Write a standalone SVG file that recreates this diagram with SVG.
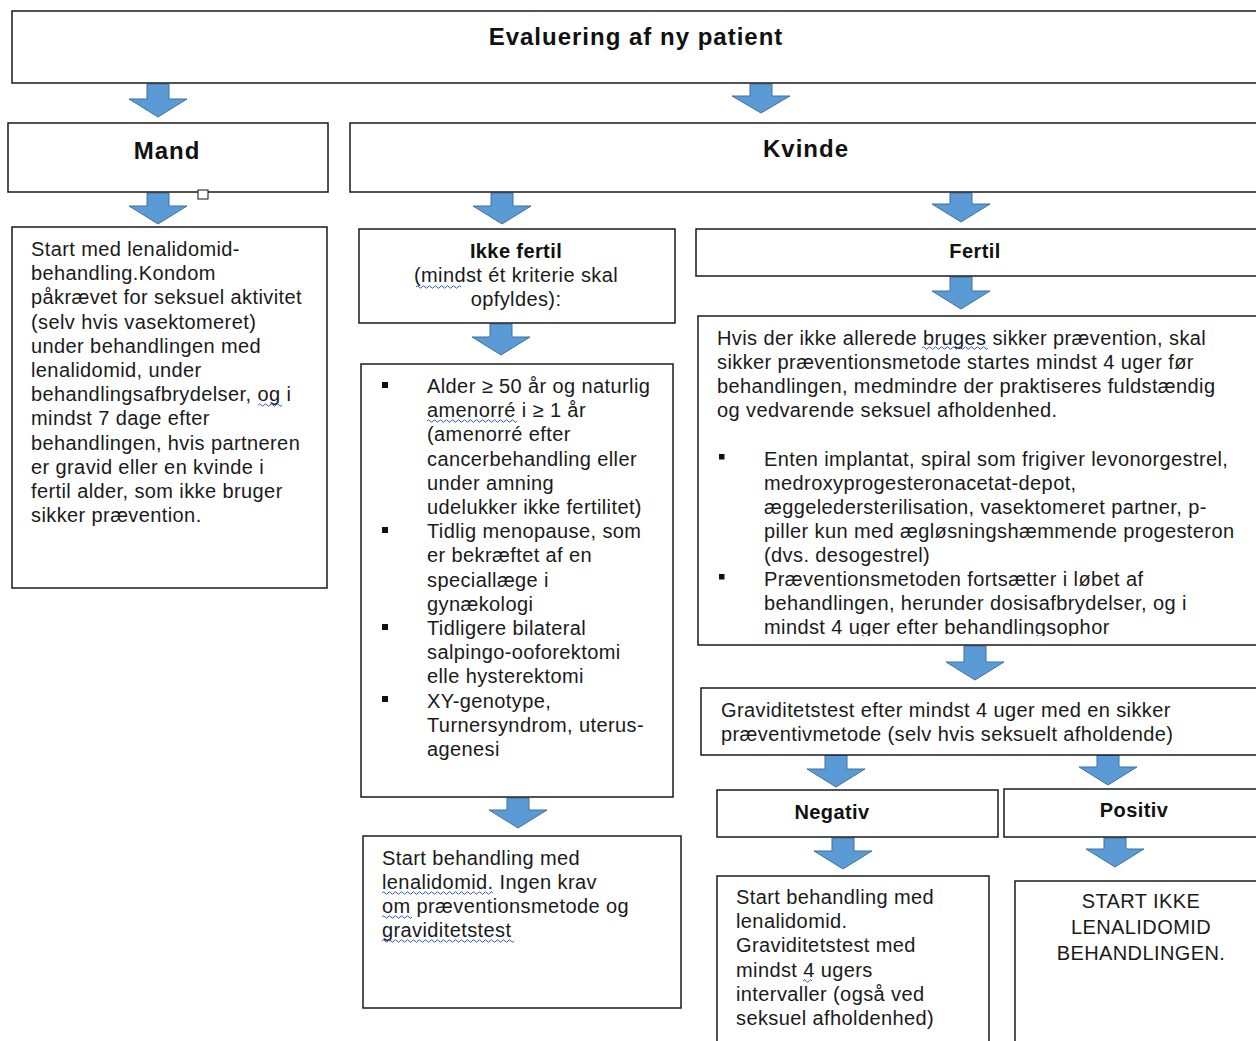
<svg xmlns="http://www.w3.org/2000/svg" width="1256" height="1041" viewBox="0 0 1256 1041">
<defs>
<style>
.box{fill:#fff;stroke:#1a1a1a;stroke-width:1.5}
.arr{fill:#5b9bd5;stroke:#41719c;stroke-width:1}
.t{font-family:"Liberation Sans",Arial,sans-serif;font-size:20px;letter-spacing:0.4px;fill:#1a1a1a}
.h{font-family:"Liberation Sans",Arial,sans-serif;font-size:24px;font-weight:bold;letter-spacing:1px;fill:#111;text-anchor:middle}
.hb{font-family:"Liberation Sans",Arial,sans-serif;font-size:20px;font-weight:bold;letter-spacing:0.4px;fill:#111;text-anchor:middle}
.c{text-anchor:middle}
.bul{fill:#111}
.wv{fill:none;stroke:#3355dd;stroke-width:1}
</style>
<clipPath id="clipFertil"><rect x="698" y="316" width="600" height="320"/></clipPath>
</defs>

<g id="connectors">
<path class="arr" d="M147,84 H169 V99 H187 L158,117 L129,99 H147 Z"/>
<path class="arr" d="M750,84 H772 V96 H790 L761,113 L732,96 H750 Z"/>
<path class="arr" d="M147,193 H169 V206 H187 L158,224 L129,206 H147 Z"/>
<path class="arr" d="M491,193 H513 V206 H531 L502,224 L473,206 H491 Z"/>
<path class="arr" d="M950,193 H972 V204 H990 L961,222 L932,204 H950 Z"/>
<path class="arr" d="M950,277 H972 V291 H990 L961,309 L932,291 H950 Z"/>
<path class="arr" d="M490,324 H512 V337 H530 L501,355 L472,337 H490 Z"/>
<path class="arr" d="M507,798 H529 V810 H547 L518,828 L489,810 H507 Z"/>
<path class="arr" d="M964,646 H986 V662 H1004 L975,680 L946,662 H964 Z"/>
<path class="arr" d="M825,755 H847 V769 H865 L836,787 L807,769 H825 Z"/>
<path class="arr" d="M1097,755 H1119 V767 H1137 L1108,785 L1079,767 H1097 Z"/>
<path class="arr" d="M832,838 H854 V851 H872 L843,869 L814,851 H832 Z"/>
<path class="arr" d="M1104,838 H1126 V849 H1144 L1115,867 L1086,849 H1104 Z"/>
</g>

<g id="title">
<rect class="box" x="12" y="11" width="1260" height="72"/>
<text class="h" x="636" y="45">Evaluering af ny patient</text>
</g>

<g id="mand">
<rect class="box" x="8" y="123" width="320" height="69"/>
<text class="h" x="167" y="159">Mand</text>
<rect x="198" y="190" width="10" height="9" fill="#fff" stroke="#111" stroke-width="1"/>
</g>

<g id="kvinde">
<rect class="box" x="350" y="123" width="920" height="69"/>
<text class="h" x="806" y="157">Kvinde</text>
</g>

<g id="mand-tekst">
<rect class="box" x="12" y="227" width="315" height="361"/>
<text class="t" x="31" y="256">
<tspan x="31">Start med lenalidomid-</tspan>
<tspan x="31" dy="24.2">behandling.Kondom</tspan>
<tspan x="31" dy="24.2">påkrævet for seksuel aktivitet</tspan>
<tspan x="31" dy="24.2">(selv hvis vasektomeret)</tspan>
<tspan x="31" dy="24.2">under behandlingen med</tspan>
<tspan x="31" dy="24.2">lenalidomid, under</tspan>
<tspan x="31" dy="24.2">behandlingsafbrydelser, og i</tspan>
<tspan x="31" dy="24.2">mindst 7 dage efter</tspan>
<tspan x="31" dy="24.2">behandlingen, hvis partneren</tspan>
<tspan x="31" dy="24.2">er gravid eller en kvinde i</tspan>
<tspan x="31" dy="24.2">fertil alder, som ikke bruger</tspan>
<tspan x="31" dy="24.2">sikker prævention.</tspan>
</text>
<path class="wv" d="M258,405 q1.5,-2.5 3,0 t3,0 t3,0 t3,0 t3,0 t3,0 t3,0 t3,0"/>
</g>

<g id="ikke-fertil">
<rect class="box" x="359" y="229" width="316" height="94"/>
<text class="hb" x="516" y="258">Ikke fertil</text>
<text class="t c" x="516" y="282">(mindst ét kriterie skal</text>
<text class="t c" x="516" y="306">opfyldes):</text>
<path class="wv" d="M416,287 q1.5,-2.5 3,0 t3,0 t3,0 t3,0 t3,0 t3,0 t3,0 t3,0 t3,0 t3,0 t3,0 t3,0 t3,0 t3,0 t3,0"/>
</g>

<g id="kriterier">
<rect class="box" x="361" y="364" width="312" height="433"/>
<rect class="bul" x="382" y="382" width="6" height="6"/>
<rect class="bul" x="382" y="527" width="6" height="6"/>
<rect class="bul" x="382" y="624" width="6" height="6"/>
<rect class="bul" x="382" y="696" width="6" height="6"/>
<text class="t" x="427" y="393">
<tspan x="427">Alder ≥ 50 år og naturlig</tspan>
<tspan x="427" dy="24.2">amenorré i ≥ 1 år</tspan>
<tspan x="427" dy="24.2">(amenorré efter</tspan>
<tspan x="427" dy="24.2">cancerbehandling eller</tspan>
<tspan x="427" dy="24.2">under amning</tspan>
<tspan x="427" dy="24.2">udelukker ikke fertilitet)</tspan>
<tspan x="427" dy="24.2">Tidlig menopause, som</tspan>
<tspan x="427" dy="24.2">er bekræftet af en</tspan>
<tspan x="427" dy="24.2">speciallæge i</tspan>
<tspan x="427" dy="24.2">gynækologi</tspan>
<tspan x="427" dy="24.2">Tidligere bilateral</tspan>
<tspan x="427" dy="24.2">salpingo-ooforektomi</tspan>
<tspan x="427" dy="24.2">elle hysterektomi</tspan>
<tspan x="427" dy="24.2">XY-genotype,</tspan>
<tspan x="427" dy="24.2">Turnersyndrom, uterus-</tspan>
<tspan x="427" dy="24.2">agenesi</tspan>
</text>
<path class="wv" d="M427,421 q1.5,-2.5 3,0 t3,0 t3,0 t3,0 t3,0 t3,0 t3,0 t3,0 t3,0 t3,0 t3,0 t3,0 t3,0 t3,0 t3,0 t3,0 t3,0 t3,0 t3,0 t3,0 t3,0 t3,0 t3,0 t3,0 t3,0 t3,0 t3,0 t3,0 t3,0 t3,0"/>
</g>

<g id="ikke-fertil-start">
<rect class="box" x="363" y="836" width="318" height="172"/>
<text class="t" x="382" y="865">
<tspan x="382">Start behandling med</tspan>
<tspan x="382" dy="24">lenalidomid. Ingen krav</tspan>
<tspan x="382" dy="24">om præventionsmetode og</tspan>
<tspan x="382" dy="24">graviditetstest</tspan>
</text>
<path class="wv" d="M382,893 q1.5,-2.5 3,0 t3,0 t3,0 t3,0 t3,0 t3,0 t3,0 t3,0 t3,0 t3,0 t3,0 t3,0 t3,0 t3,0 t3,0 t3,0 t3,0 t3,0 t3,0 t3,0 t3,0 t3,0 t3,0 t3,0 t3,0 t3,0 t3,0 t3,0 t3,0 t3,0 t3,0 t3,0 t3,0 t3,0 t3,0 t3,0 t3,0"/>
<path class="wv" d="M382,917 q1.5,-2.5 3,0 t3,0 t3,0 t3,0 t3,0 t3,0 t3,0 t3,0 t3,0 t3,0"/>
<path class="wv" d="M382,941 q1.5,-2.5 3,0 t3,0 t3,0 t3,0 t3,0 t3,0 t3,0 t3,0 t3,0 t3,0 t3,0 t3,0 t3,0 t3,0 t3,0 t3,0 t3,0 t3,0 t3,0 t3,0 t3,0 t3,0 t3,0 t3,0 t3,0 t3,0 t3,0 t3,0 t3,0 t3,0 t3,0 t3,0 t3,0 t3,0 t3,0 t3,0 t3,0 t3,0 t3,0 t3,0 t3,0 t3,0 t3,0 t3,0"/>
</g>

<g id="fertil">
<rect class="box" x="696" y="229" width="580" height="47"/>
<text class="hb" x="975" y="258">Fertil</text>
</g>

<g id="fertil-tekst">
<rect class="box" x="698" y="316" width="580" height="329"/>
<g clip-path="url(#clipFertil)">
<text class="t" x="717" y="345">
<tspan x="717">Hvis der ikke allerede bruges sikker prævention, skal</tspan>
<tspan x="717" dy="24.1">sikker præventionsmetode startes mindst 4 uger før</tspan>
<tspan x="717" dy="24.1">behandlingen, medmindre der praktiseres fuldstændig</tspan>
<tspan x="717" dy="24.1">og vedvarende seksuel afholdenhed.</tspan>
<tspan x="764" dy="48.2">Enten implantat, spiral som frigiver levonorgestrel,</tspan>
<tspan x="764" dy="24.1">medroxyprogesteronacetat-depot,</tspan>
<tspan x="764" dy="24.1">æggeledersterilisation, vasektomeret partner, p-</tspan>
<tspan x="764" dy="24.1">piller kun med ægløsningshæmmende progesteron</tspan>
<tspan x="764" dy="24.1">(dvs. desogestrel)</tspan>
<tspan x="764" dy="24.1">Præventionsmetoden fortsætter i løbet af</tspan>
<tspan x="764" dy="24.1">behandlingen, herunder dosisafbrydelser, og i</tspan>
<tspan x="764" dy="24.1">mindst 4 uger efter behandlingsophor</tspan>
</text>
</g>
<rect class="bul" x="719" y="454" width="5.5" height="5.5"/>
<rect class="bul" x="719" y="574" width="5.5" height="5.5"/>
<path class="wv" d="M922,348 q1.5,-2.5 3,0 t3,0 t3,0 t3,0 t3,0 t3,0 t3,0 t3,0 t3,0 t3,0 t3,0 t3,0 t3,0 t3,0 t3,0 t3,0 t3,0 t3,0 t3,0 t3,0 t3,0 t3,0"/>
</g>

<g id="graviditetstest">
<rect class="box" x="701" y="688" width="580" height="67"/>
<text class="t" x="721" y="717">
<tspan x="721">Graviditetstest efter mindst 4 uger med en sikker</tspan>
<tspan x="721" dy="24">præventivmetode (selv hvis seksuelt afholdende)</tspan>
</text>
</g>

<g id="negativ">
<rect class="box" x="717" y="790" width="281" height="47"/>
<text class="hb" x="832" y="819">Negativ</text>
</g>

<g id="positiv">
<rect class="box" x="1004" y="789" width="280" height="48"/>
<text class="hb" x="1134" y="817">Positiv</text>
</g>

<g id="negativ-start">
<rect class="box" x="717" y="876" width="272" height="180"/>
<text class="t" x="736" y="904">
<tspan x="736">Start behandling med</tspan>
<tspan x="736" dy="24.2">lenalidomid.</tspan>
<tspan x="736" dy="24.2">Graviditetstest med</tspan>
<tspan x="736" dy="24.2">mindst 4 ugers</tspan>
<tspan x="736" dy="24.2">intervaller (også ved</tspan>
<tspan x="736" dy="24.2">seksuel afholdenhed)</tspan>
</text>
<path class="wv" d="M803,981 q1.5,-2.5 3,0 t3,0 t3,0"/>
</g>

<g id="positiv-stop">
<rect class="box" x="1015" y="881" width="270" height="180"/>
<text class="t c" x="1141" y="908">START IKKE</text>
<text class="t c" x="1141" y="934">LENALIDOMID</text>
<text class="t c" x="1141" y="960">BEHANDLINGEN.</text>
</g>
</svg>
